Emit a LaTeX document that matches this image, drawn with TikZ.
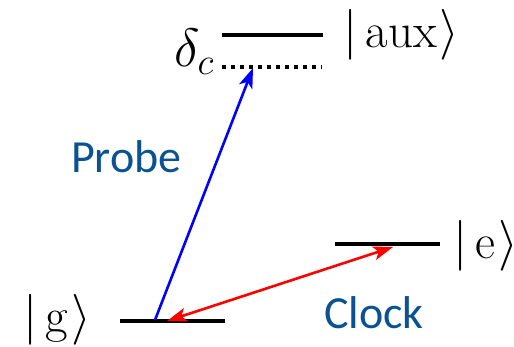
\documentclass[tikz,border=0pt]{standalone}
\usepackage{graphicx}
\usepackage{fontspec}
\newfontfamily\calib{Carlito}
\usetikzlibrary{arrows.meta}
\definecolor{lbl}{RGB}{10,82,145}
\newcommand{\bigmath}[2][2.45]{\scalebox{#1}{\fontsize{20}{24}\selectfont$#2$}}
\newcommand{\myket}[1]{\bigmath{|\mkern3mu\mathrm{#1}\mkern1mu\rangle}}
\begin{document}
\begin{tikzpicture}[x=1pt,y=-1pt,
  level/.style={line width=4pt},
  ket/.style={inner sep=0pt},
  lab/.style={font=\calib\fontsize{46}{50}\selectfont, text=lbl, inner sep=0pt},
  tipp/.style={line width=2.6pt},
  hd/.tip={Stealth[length=20pt,width=14pt,inset=5pt]}]
\useasboundingbox (0,0) rectangle (514,347);
% levels
\coordinate (auxL) at (222,35); \coordinate (auxR) at (323,35);
\coordinate (dL) at (222,67); \coordinate (dR) at (322,67);
\coordinate (gL) at (120,321); \coordinate (gR) at (225,321);
\coordinate (eL) at (335,244); \coordinate (eR) at (440,244);
\draw[level] (auxL) -- (auxR);
\draw[line width=4pt, dash pattern=on 4pt off 5pt] (dL) -- (dR);
\draw[level] (gL) -- (gR);
\draw[level] (eL) -- (eR);
% labels
\node[ket, anchor=west] (aux) at (343,35) {\myket{aux}};
\node[ket, anchor=west] (e) at (453,246) {\myket{e}};
\node[ket, anchor=west] (g) at (23,320) {\myket{g}};
\node[ket, anchor=east] (dc) at (215,52) {\bigmath[2.6]{\delta_c}};
\node[lab, anchor=base west] (probe) at (71,173) {Probe};
\node[lab, anchor=base west] (clock) at (324,328) {Clock};
% arrows
\coordinate (pS) at (155,320); \coordinate (pE) at (253,68);
\coordinate (cS) at (167,321); \coordinate (cE) at (393,247);
\draw[tipp, blue, -hd] (pS) -- (pE);
\draw[tipp, red, hd-hd] (cS) -- (cE);
\end{tikzpicture}
\end{document}
